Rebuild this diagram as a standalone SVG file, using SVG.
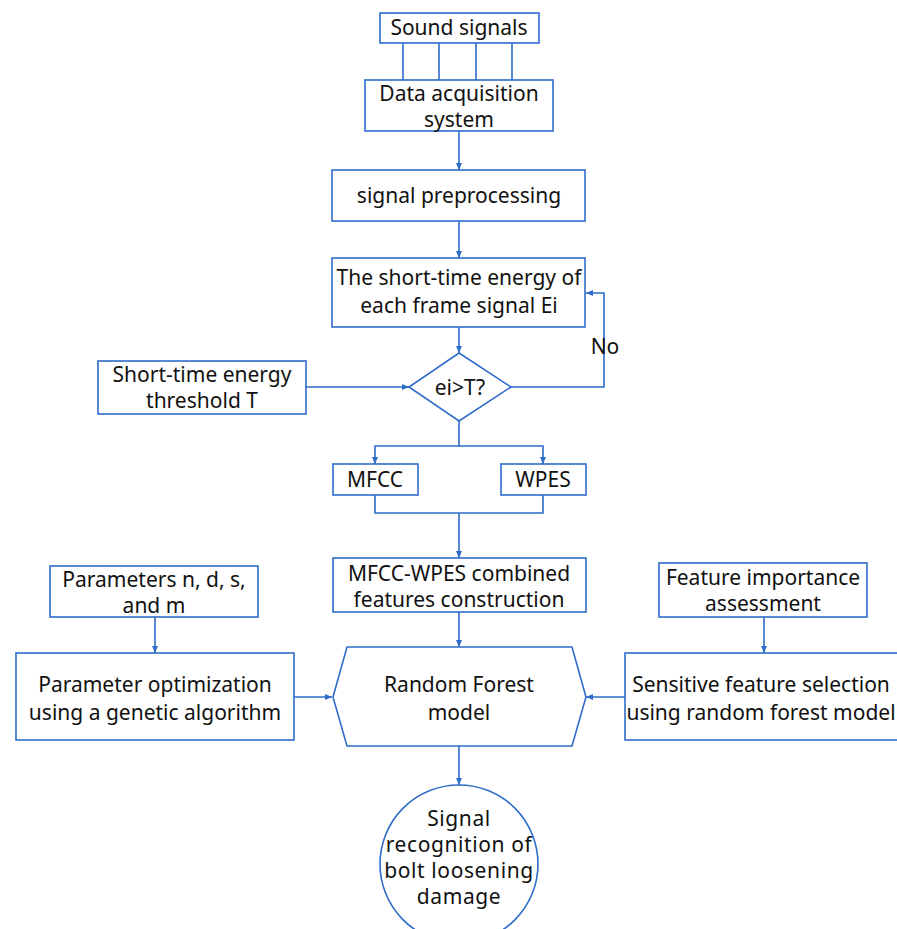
<svg xmlns="http://www.w3.org/2000/svg" width="897" height="929" viewBox="0 0 897 929">
<defs>
<style>
.b{fill:#fff;stroke:#2f6cc8;stroke-width:1.6}
.l{fill:none;stroke:#2f6cc8;stroke-width:1.6}
.t{font-family:"Noto Sans","Open Sans",sans-serif;font-size:21px;fill:#111;text-anchor:middle}
.c{letter-spacing:0.6px}
</style>
<marker id="a" markerWidth="8" markerHeight="8" refX="7" refY="4" orient="auto" markerUnits="userSpaceOnUse">
<path d="M0,1 L7,4 L0,7 Z" fill="#2f6cc8"/>
</marker>
</defs>
<rect width="897" height="929" fill="#fff"/>
<g id="connectors">
<path class="l" d="M403,43V80M439,43V80M476,43V80M512,43V80"/>
<path class="l" d="M459,131V170" marker-end="url(#a)"/>
<path class="l" d="M459,221V258" marker-end="url(#a)"/>
<path class="l" d="M459,327V353" marker-end="url(#a)"/>
<path class="l" d="M306,387H409" marker-end="url(#a)"/>
<path class="l" d="M511,387H604V293H586" marker-end="url(#a)"/>
<path class="l" d="M459,421V446H375V464" marker-end="url(#a)"/>
<path class="l" d="M459,446H543V464" marker-end="url(#a)"/>
<path class="l" d="M375,495V513H543V495M459,513V558" marker-end="url(#a)"/>
<path class="l" d="M459,612V647" marker-end="url(#a)"/>
<path class="l" d="M155,617V653" marker-end="url(#a)"/>
<path class="l" d="M764,617V653" marker-end="url(#a)"/>
<path class="l" d="M294,697H332" marker-end="url(#a)"/>
<path class="l" d="M625,697H586" marker-end="url(#a)"/>
<path class="l" d="M459,746V785" marker-end="url(#a)"/>
<text class="t" x="605" y="354">No</text>
</g>
<g id="sound">
<rect class="b" x="380" y="13" width="159" height="30"/>
<text class="t" x="459" y="35">Sound signals</text>
</g>
<g id="daq">
<rect class="b" x="365" y="80" width="188" height="51"/>
<text class="t" x="459" y="101">Data acquisition</text>
<text class="t" x="459" y="127">system</text>
</g>
<g id="pre">
<rect class="b" x="332" y="170" width="253" height="51"/>
<text class="t" x="459" y="203">signal preprocessing</text>
</g>
<g id="energy">
<rect class="b" x="332" y="258" width="253" height="69"/>
<text class="t" x="459" y="285">The short-time energy of</text>
<text class="t" x="459" y="313">each frame signal Ei</text>
</g>
<g id="threshold">
<rect class="b" x="98" y="361" width="208" height="53"/>
<text class="t" x="202" y="382">Short-time energy</text>
<text class="t" x="202" y="408">threshold T</text>
</g>
<g id="decision">
<path class="b" d="M459,353L511,387L459,421L409,387Z"/>
<text class="t" x="460" y="395">ei&gt;T?</text>
</g>
<g id="mfcc">
<rect class="b" x="333" y="464" width="85" height="31"/>
<text class="t" x="375" y="487">MFCC</text>
</g>
<g id="wpes">
<rect class="b" x="501" y="464" width="85" height="31"/>
<text class="t" x="543" y="487">WPES</text>
</g>
<g id="combined">
<rect class="b" x="333" y="558" width="253" height="54"/>
<text class="t" x="459" y="581">MFCC-WPES combined</text>
<text class="t" x="459" y="607">features construction</text>
</g>
<g id="params">
<rect class="b" x="50" y="566" width="208" height="51"/>
<text class="t" x="154" y="587">Parameters n, d, s,</text>
<text class="t" x="154" y="613">and m</text>
</g>
<g id="importance">
<rect class="b" x="659" y="563" width="208" height="54"/>
<text class="t" x="763" y="585">Feature importance</text>
<text class="t" x="763" y="611">assessment</text>
</g>
<g id="ga">
<rect class="b" x="16" y="653" width="278" height="87"/>
<text class="t" x="155" y="692">Parameter optimization</text>
<text class="t" x="155" y="720">using a genetic algorithm</text>
</g>
<g id="rf">
<path class="b" d="M347,647H572L586,697L572,746H347L333,697Z"/>
<text class="t" x="459" y="692">Random Forest</text>
<text class="t" x="459" y="720">model</text>
</g>
<g id="sensitive">
<rect class="b" x="625" y="653" width="290" height="87"/>
<text class="t" x="761" y="692">Sensitive feature selection</text>
<text class="t" x="761" y="720">using random forest model</text>
</g>
<g id="result">
<circle class="b" cx="459" cy="864" r="79"/>
<text class="t c" x="459" y="826">Signal</text>
<text class="t c" x="459" y="852">recognition of</text>
<text class="t c" x="459" y="878">bolt loosening</text>
<text class="t c" x="459" y="904">damage</text>
</g>
</svg>
